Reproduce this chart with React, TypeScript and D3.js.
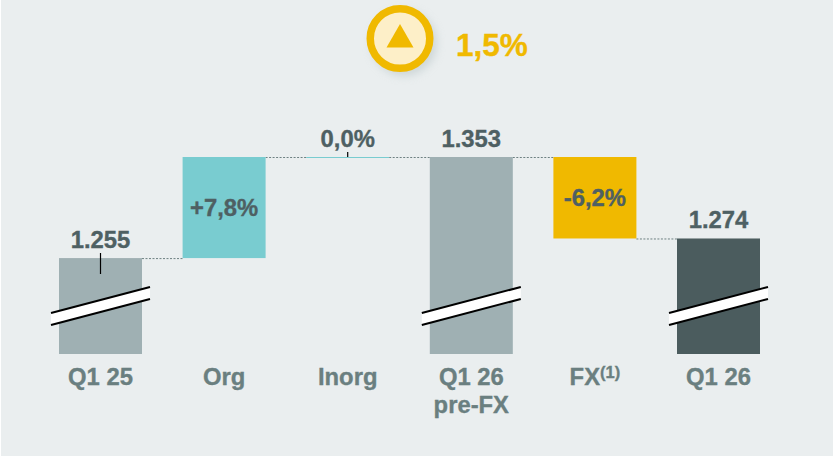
import React from "react";
import * as d3 from "d3";

const categories = ["Q1 25", "Org", "Inorg", "Q1 26", "FX", "Q1 26 "];
const secondLine = ["", "", "", "pre-FX", "", ""];
const superscripts = ["", "", "", "", "(1)", ""];
const barStarts = [1162, 1255, 1353, 1162, 1353, 1162];
const barEnds = [1255, 1353, 1353, 1353, 1274, 1274];
const valueLabels = ["1.255", "+7,8%", "0,0%", "1.353", "-6,2%", "1.274"];
const barKinds = ["total", "up", "up", "total", "down", "final"];
const brokenBars = [true, false, false, true, false, true];
const headline = "1,5%";

const W = 833;
const H = 456;
const BAR_W = 83;
const colors: Record<string, string> = { total: "#9FB0B3", up: "#79CCD0", down: "#F0B900", final: "#4B5C5E" };
const FONT = "'Liberation Sans', Arial, sans-serif";

export default function App() {
  const x = d3.scalePoint<string>().domain(categories).range([100.5, 718.5]);
  const y = d3.scaleLinear().domain([1162, 1353]).range([354, 157]);
  const cx = (i: number) => x(categories[i]) as number;

  return (
    <svg width={W} height={H} viewBox={`0 0 ${W} ${H}`} style={{ position: "absolute", left: 0, top: 0, display: "block" }} fontFamily={FONT}>
      <defs>
        <filter id="sh" x="-30%" y="-30%" width="170%" height="170%">
          <feGaussianBlur stdDeviation="4" />
        </filter>
      </defs>
      <rect width={W} height={H} fill="#fff" />
      <rect x={1} y={0} width={W - 1} height={H} fill="#EAEEEF" />

      {/* headline badge */}
      <circle cx={404} cy={43} r={33} fill="#B8C4C6" opacity={0.55} filter="url(#sh)" />
      <circle cx={400} cy={38.5} r={29.75} fill="#FDEFC8" stroke="#F0B900" strokeWidth={7.5} />
      <path d="M400 24 L413.5 47.5 L386.5 47.5 Z" fill="#F0B900" />
      <text x={456} y={56} fontSize={31.5} fontWeight={700} fill="#F0B900" stroke="#F0B900" strokeWidth={0.4}>{headline}</text>

      {/* connectors */}
      {categories.slice(0, -1).map((c, i) => (
        <line key={c + "conn"} x1={cx(i) + BAR_W / 2} x2={cx(i + 1) - BAR_W / 2} y1={y(barEnds[i]) + 0.5} y2={y(barEnds[i]) + 0.5}
          stroke="#6E8082" strokeWidth={1} strokeDasharray="2 1.5" />
      ))}

      {/* bars */}
      {categories.map((c, i) => {
        const top = y(Math.max(barStarts[i], barEnds[i]));
        const bottom = y(Math.min(barStarts[i], barEnds[i]));
        return <rect key={c + "bar"} x={cx(i) - BAR_W / 2} y={top} width={BAR_W} height={Math.max(bottom - top, 1)} fill={colors[barKinds[i]]} />;
      })}

      {/* axis breaks */}
      {categories.map((c, i) => {
        if (!brokenBars[i]) return null;
        const l = cx(i) - 49.5;
        const r = cx(i) + 49.5;
        return (
          <g key={c + "break"}>
            <path d={`M${l} 313 L${r} 287 L${r} 299 L${l} 325 Z`} fill="#fff" />
            <line x1={l} x2={r} y1={313} y2={287} stroke="#000" strokeWidth={2} />
            <line x1={l} x2={r} y1={325} y2={299} stroke="#000" strokeWidth={2} />
          </g>
        );
      })}

      {/* leader ticks */}
      <line x1={cx(0)} x2={cx(0)} y1={253} y2={274} stroke="#000" strokeWidth={1.2} />
      <line x1={cx(2)} x2={cx(2)} y1={152} y2={157} stroke="#000" strokeWidth={1.2} />

      {/* value labels */}
      {categories.map((c, i) => {
        const top = y(Math.max(barStarts[i], barEnds[i]));
        const bottom = y(Math.min(barStarts[i], barEnds[i]));
        const inside = barKinds[i] === "down" || (barKinds[i] === "up" && bottom - top > 5);
        const by = inside ? (top + bottom) / 2 + 8.5 : top - 10;
        return (
          <text key={c + "val"} x={cx(i)} y={by} textAnchor="middle" fontSize={23.8} fontWeight={700} fill="#4E6063" stroke="#4E6063" strokeWidth={0.35}>
            {valueLabels[i]}
          </text>
        );
      })}

      {/* category labels */}
      {categories.map((c, i) => (
        <text key={c + "cat"} x={cx(i)} y={385} textAnchor="middle" fontSize={23.8} fontWeight={700} fill="#6A7F80" stroke="#6A7F80" strokeWidth={0.35} xmlSpace="preserve">
          {c.trim().replace(" ", "\u00A0")}
          {superscripts[i] && <tspan fontSize={16.5} dy={-7.5}>{superscripts[i]}</tspan>}
        </text>
      ))}
      {categories.map((c, i) =>
        secondLine[i] ? (
          <text key={c + "cat2"} x={cx(i)} y={413} textAnchor="middle" fontSize={23.8} fontWeight={700} fill="#6A7F80" stroke="#6A7F80" strokeWidth={0.35}>
            {secondLine[i]}
          </text>
        ) : null
      )}
    </svg>
  );
}
